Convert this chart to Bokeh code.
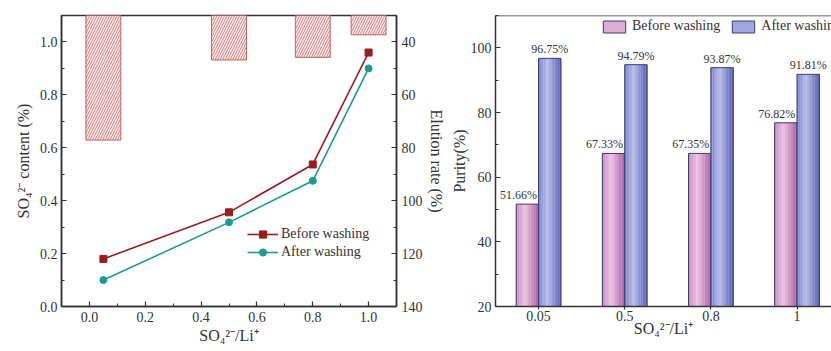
import numpy as np
from bokeh.plotting import figure
from bokeh.models import (Range1d, LinearAxis, SingleIntervalTicker, FixedTicker, Legend,
                          LegendItem, ColumnDataSource, NumeralTickFormatter, Span)
from bokeh.layouts import row
from bokeh.embed import file_html
from bokeh.resources import INLINE
from bokeh.core.properties import value

# ---------------- data ----------------
ratio = [0.05, 0.5, 0.8, 1.0]
so4_before = [0.18, 0.356, 0.537, 0.96]
so4_after = [0.10, 0.318, 0.475, 0.90]
elution_rate = [77.1, 46.8, 45.8, 37.3]

purity_cats = ["0.05", "0.5", "0.8", "1"]
purity_before = [51.66, 67.33, 67.35, 76.82]
purity_after = [96.75, 94.79, 93.87, 91.81]

# ---------------- style ----------------
FONT = "Liberation Serif"
AX = "#333333"
TXT = "#333333"
RED = "#9b1c1f"
TEAL = "#1c9a8e"
SO4LI = "SO\u2084\u00b2\u207b/Li\u207a"


def style_axis(ax, label, tick_in=5, tick_out=0, minor_in=3, minor_out=0,
               lab_off=4, title_off=0):
    ax.axis_line_color = AX
    ax.axis_line_width = 1.5
    ax.major_tick_line_color = AX
    ax.minor_tick_line_color = AX
    ax.major_tick_line_width = 1.2
    ax.major_tick_in = tick_in
    ax.major_tick_out = tick_out
    ax.minor_tick_in = minor_in
    ax.minor_tick_out = minor_out
    ax.major_label_text_font = FONT
    ax.major_label_text_font_size = "14px"
    ax.major_label_text_color = TXT
    ax.major_label_standoff = lab_off
    ax.axis_label = label
    ax.axis_label_text_font = FONT
    ax.axis_label_text_font_size = "16px"
    ax.axis_label_text_font_style = "normal"
    ax.axis_label_text_color = TXT
    ax.axis_label_standoff = title_off


# ---------------- left chart ----------------
p1 = figure(width=447, height=351, output_backend="svg", toolbar_location=None,
            x_range=Range1d(-0.1, 1.1), y_range=Range1d(0, 1.1),
            min_border_left=61, min_border_right=48, min_border_top=15, min_border_bottom=45)
el_range = Range1d(start=140, end=30)
p1.extra_y_ranges = {"el": el_range}
p1.xgrid.visible = False
p1.ygrid.visible = False
p1.outline_line_color = AX
p1.outline_line_width = 1.5
p1.background_fill_color = "white"
p1.border_fill_color = "white"

p1.vbar(x=ratio, width=0.125, top=el_range.end, bottom=elution_rate, y_range_name="el",
        fill_color="#fdf0f0", line_color="#c06060", line_width=1,
        hatch_pattern="/", hatch_color="#d86c6c", hatch_scale=5, hatch_weight=0.9)

lb = p1.line(ratio, so4_before, line_color=RED, line_width=1.6)
sb = p1.scatter(ratio, so4_before, marker="square", size=7, fill_color=RED, line_color=RED)
la = p1.line(ratio, so4_after, line_color=TEAL, line_width=1.6)
sa = p1.scatter(ratio, so4_after, marker="circle", size=7, fill_color=TEAL, line_color=TEAL)

xa = p1.xaxis[0]
xa.ticker = SingleIntervalTicker(interval=0.2, num_minor_ticks=2)
xa.formatter = NumeralTickFormatter(format="0.0")
style_axis(xa, SO4LI, lab_off=5, title_off=2)

ya = p1.yaxis[0]
ya.ticker = SingleIntervalTicker(interval=0.2, num_minor_ticks=2)
ya.formatter = NumeralTickFormatter(format="0.0")
style_axis(ya, "SO\u2084\u00b2\u207b content (%)", lab_off=4, title_off=5)

ra = LinearAxis(y_range_name="el", ticker=SingleIntervalTicker(interval=20, num_minor_ticks=2))
style_axis(ra, "Elution rate (%)", lab_off=5, title_off=2)
p1.add_layout(ra, "right")

leg1 = Legend(items=[LegendItem(label="Before washing", renderers=[lb, sb]),
                     LegendItem(label="After washing", renderers=[la, sa])],
              location=(186, 45), orientation="vertical",
              glyph_width=31, glyph_height=18, label_height=18, label_standoff=3,
              spacing=0, padding=0, margin=0,
              label_text_font=FONT, label_text_font_size="14px", label_text_color=TXT,
              border_line_color=None, background_fill_alpha=0)
p1.add_layout(leg1)

# ---------------- right chart ----------------
p2 = figure(width=384, height=351, output_backend="svg", toolbar_location=None,
            x_range=Range1d(-0.5, 3.4), y_range=Range1d(20, 110),
            min_border_left=45, min_border_right=0, min_border_top=15, min_border_bottom=40)
p2.xgrid.visible = False
p2.ygrid.visible = False
p2.outline_line_color = None
p2.background_fill_color = "white"
p2.border_fill_color = "white"

idx = np.arange(len(purity_cats))
BW = 0.26
N = 14


def grad(stops, t):
    pos = [s[0] for s in stops]
    cols = [tuple(int(s[1][i:i + 2], 16) for i in (1, 3, 5)) for s in stops]
    out = [int(round(np.interp(t, pos, [col[c] for col in cols]))) for c in range(3)]
    return "#%02x%02x%02x" % tuple(out)


PINK = [(0.0, "#c98ac0"), (0.4, "#eac2e2"), (1.0, "#ad5ea4")]
BLUE = [(0.0, "#7c83c8"), (0.4, "#b6bde9"), (1.0, "#5a61b4")]


def gradient_bars(vals, offset, stops):
    xs, tops, cols = [], [], []
    for i, v in enumerate(vals):
        for k in range(N):
            t = (k + 0.5) / N
            xs.append(idx[i] + offset - BW / 2 + t * BW)
            tops.append(v)
            cols.append(grad(stops, t))
    src = ColumnDataSource(dict(x=xs, top=tops, color=cols))
    strips = p2.vbar(x="x", top="top", bottom=p2.y_range.start, width=BW / N * 1.15, source=src,
                     fill_color="color", line_color=None)
    outline = p2.vbar(x=idx + offset, top=vals, bottom=p2.y_range.start, width=BW,
                      fill_color=None, line_color="#3c3c70", line_width=1)
    return strips, outline


sb2, ob2 = gradient_bars(purity_before, -BW / 2, PINK)
sa2, oa2 = gradient_bars(purity_after, BW / 2, BLUE)

p2.text(x=idx - BW / 2, y=purity_before, text=["%.2f%%" % v for v in purity_before],
        text_align="center", text_baseline="bottom", x_offset=-9, y_offset=-2,
        text_font=value(FONT), text_font_size="12px", text_color=TXT)
p2.text(x=idx + BW / 2, y=purity_after, text=["%.2f%%" % v for v in purity_after],
        text_align="center", text_baseline="bottom", y_offset=-2,
        text_font=value(FONT), text_font_size="12px", text_color=TXT)

p2.add_layout(Span(location=p2.y_range.end, dimension="width", line_color=AX, line_width=1.5))

xb = p2.xaxis[0]
xb.ticker = FixedTicker(ticks=list(idx))
xb.major_label_overrides = {int(i): c for i, c in zip(idx, purity_cats)}
style_axis(xb, SO4LI, tick_in=0, tick_out=3, minor_in=0, minor_out=0, lab_off=1, title_off=-4)

yb = p2.yaxis[0]
yb.ticker = SingleIntervalTicker(interval=20, num_minor_ticks=2)
style_axis(yb, "Purity(%)", lab_off=4, title_off=0)

leg2 = Legend(items=[LegendItem(label="Before washing", renderers=[sb2, ob2], index=3),
                     LegendItem(label="After washing", renderers=[sa2, oa2], index=3)],
              location=(105, 272), orientation="horizontal",
              glyph_width=28, glyph_height=15, label_height=15, label_standoff=4,
              spacing=9, padding=0, margin=0,
              label_text_font=FONT, label_text_font_size="14px", label_text_color=TXT,
              border_line_color=None, background_fill_alpha=0)
p2.add_layout(leg2)

layout = row(p1, p2)
open("out.html", "w").write(file_html(layout, INLINE))
